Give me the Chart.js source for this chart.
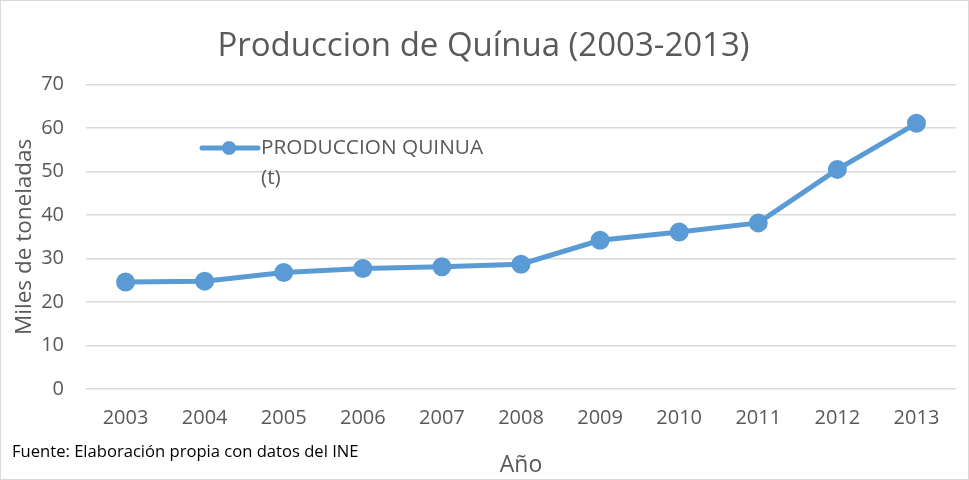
<!DOCTYPE html>
<html>
<head>
<meta charset="utf-8">
<script src="https://cdn.jsdelivr.net/npm/chart.js@4/dist/chart.umd.min.js"></script>
<style>
  html, body { margin: 0; padding: 0; background: #fff; }
  #wrap { position: relative; width: 969px; height: 480px; box-sizing: border-box; border: 1px solid #d9d9d9; }
</style>
</head>
<body>
<div id="wrap"><canvas id="myChart" width="967" height="478"></canvas></div>
<script>
const years = ['2003', '2004', '2005', '2006', '2007', '2008', '2009', '2010', '2011', '2012', '2013'];
const produccion = [24.6, 24.8, 26.8, 27.7, 28.1, 28.7, 34.2, 36.1, 38.2, 50.5, 61.1];
const serieLabel = ['PRODUCCION QUINUA', '(t)'];
const fuente = 'Fuente: Elaboración propia con datos del INE';

const txtClr = '#595959';
const lineClr = '#5b9bd5';
const font = '"Open Sans", "Noto Sans", sans-serif';

// legend sits inside the plot, Excel style
const legendInside = {
  id: 'legendInside',
  afterDraw(chart) {
    const { ctx } = chart;
    ctx.save();
    ctx.strokeStyle = lineClr;
    ctx.lineWidth = 5;
    ctx.lineCap = 'round';
    ctx.beginPath();
    ctx.moveTo(201, 147);
    ctx.lineTo(257, 147);
    ctx.stroke();
    ctx.fillStyle = lineClr;
    ctx.beginPath();
    ctx.arc(228, 147, 7, 0, Math.PI * 2);
    ctx.fill();
    ctx.fillStyle = txtClr;
    ctx.font = '20.8px ' + font;
    ctx.textBaseline = 'middle';
    ctx.fillText(serieLabel[0], 260, 147);
    ctx.fillText(serieLabel[1], 260, 177);
    ctx.fillStyle = '#000';
    ctx.font = '16.6px ' + font;
    ctx.fillText(fuente, 11, 451);
    ctx.restore();
  },
};

const ctx = document.getElementById('myChart').getContext('2d');
const chart = new Chart(ctx, {
  type: 'line',
  data: {
    labels: years,
    datasets: [{
      label: serieLabel.join(' '),
      data: produccion,
      borderColor: lineClr,
      backgroundColor: lineClr,
      borderWidth: 5,
      pointRadius: 7,
      pointHoverRadius: 7,
      tension: 0,
    }],
  },
  options: {
    responsive: false,
    animation: false,
    layout: { padding: { left: 10, right: 12, top: 0, bottom: 0 } },
    plugins: {
      legend: { display: false },
      tooltip: { enabled: false },
      title: {
        display: true,
        text: 'Produccion de Quínua (2003-2013)',
        color: txtClr,
        font: { family: font, size: 33, weight: 'normal' },
        padding: { top: 26, bottom: 18 },
      },
    },
    scales: {
      x: {
        offset: true,
        grid: { display: false, drawTicks: false },
        border: { display: false },
        ticks: { color: txtClr, font: { family: font, size: 20 }, padding: 17 },
        title: {
          display: true,
          text: 'Año',
          color: txtClr,
          font: { family: font, size: 23 },
          padding: { top: 4, bottom: 0 },
        },
        afterFit(scale) { scale.height = 90; },
      },
      y: {
        min: 0,
        max: 70,
        ticks: { stepSize: 10, color: txtClr, font: { family: font, size: 20 }, padding: 22 },
        grid: { color: '#d9d9d9', lineWidth: 1.5, drawTicks: false },
        border: { display: false },
        title: {
          display: true,
          text: 'Miles de toneladas',
          color: txtClr,
          font: { family: font, size: 22.5 },
          padding: { top: 0, bottom: 0 },
        },
        afterFit(scale) { scale.width = 75; },
      },
    },
  },
  plugins: [legendInside],
});
</script>
</body>
</html>
